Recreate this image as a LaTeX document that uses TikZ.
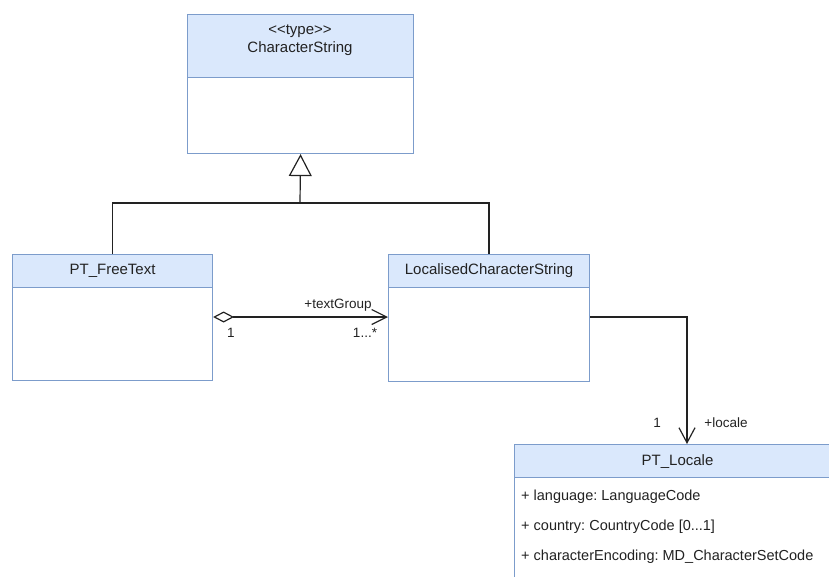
\documentclass[tikz,border=0pt]{standalone}
\usepackage{fontspec}
\setmainfont{Liberation Sans}
\usetikzlibrary{arrows.meta}
\definecolor{hdrfill}{HTML}{DAE8FC}
\definecolor{hdrline}{HTML}{7C9CCB}
\definecolor{txt}{HTML}{222222}
\definecolor{lne}{HTML}{222222}
\frenchspacing
\begin{document}
\begin{tikzpicture}[x=1pt,y=-1pt,
  hdr/.style={draw=hdrline, fill=hdrfill, line width=1.1pt, anchor=north west, inner sep=0pt, text=txt, font=\fontsize{15}{18}\selectfont, align=center},
  bdy/.style={draw=hdrline, fill=white, line width=1.1pt, anchor=north west, inner sep=0pt},
  lbl/.style={text=txt, font=\fontsize{13.5}{15}\selectfont, inner sep=0pt},
  attr/.style={text=txt, font=\fontsize{14.5}{16}\selectfont, inner sep=0pt, anchor=west},
  conn/.style={draw=lne, line width=1.2pt}
]
\useasboundingbox (0,0) rectangle (829,576);
\begin{scope}
\clip (0,0) rectangle (829,576);

% CharacterString
\node[hdr, minimum width=226pt, minimum height=63pt] (csH) at (187,14) {};
\node[text=txt, font=\fontsize{15}{18}\selectfont, align=center, inner sep=0pt] (csT) at (300,40) {<\kern0pt<type>\kern0pt>\\CharacterString};
\node[bdy, minimum width=226pt, minimum height=76pt] (csB) at (187,77) {};

% PT_FreeText
\node[hdr, minimum width=200pt, minimum height=33pt] (ftH) at (12,254) {PT\_FreeText};
\node[bdy, minimum width=200pt, minimum height=93pt] (ftB) at (12,287) {};

% LocalisedCharacterString
\node[hdr, minimum width=201pt, minimum height=33pt] (lcH) at (388,254) {LocalisedCharacterString};
\node[bdy, minimum width=201pt, minimum height=94pt] (lcB) at (388,287) {};

% PT_Locale
\node[hdr, minimum width=326pt, minimum height=33pt] (plH) at (514,444) {PT\_Locale};
\node[bdy, minimum width=326pt, minimum height=150pt] (plB) at (514,477) {};
\node[attr] (a1) at (521,497) {+ language: LanguageCode};
\node[attr] (a2) at (521,527) {+ country: CountryCode [0...1]};
\node[attr] (a3) at (521,557) {+ characterEncoding: MD\_CharacterSetCode};

% generalization
\coordinate (j) at (300,203);
\draw[conn] (ftH.north) |- (j) -| (lcH.north);
\draw[conn, -{Triangle[open, length=22pt, width=23pt, fill=white]}] (j) -- (csB.south);

% aggregation
\coordinate (ay) at (0,317);
\draw[conn, {Diamond[open, length=21pt, width=11pt, fill=white]}-{Straight Barb[length=15pt, width=15pt]}]
  (ftB.east |- ay) -- (lcB.west |- ay);
\node[lbl] (tg) at (338,305) {+textGroup};
\node[lbl] (m1) at (231,333) {1};
\node[lbl] (m2) at (365,333) {1...*};

% association to PT_Locale
\coordinate (lx) at (687,0);
\draw[conn, -{Straight Barb[length=15pt, width=16pt]}] (lcB.east |- ay) -| (lx |- plH.north);
\node[lbl] (m3) at (657,423) {1};
\node[lbl] (lo) at (726,423) {+locale};
\end{scope}
\end{tikzpicture}
\end{document}
